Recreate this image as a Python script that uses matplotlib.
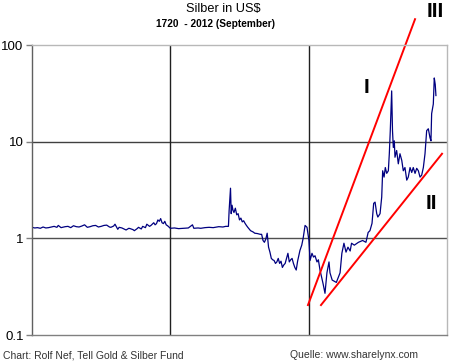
import numpy as np
import matplotlib.pyplot as plt

plt.rcParams['font.family'] = ['Liberation Sans', 'DejaVu Sans']

# silver price, US$ per ounce
years = [1720, 1722, 1724, 1726, 1728, 1730, 1732, 1734, 1736, 1738, 1739, 1741,
         1742, 1744, 1746, 1748, 1750, 1752, 1754, 1756, 1758, 1760, 1762, 1764,
         1766, 1768, 1770, 1772, 1774, 1776, 1777, 1779, 1780, 1782, 1783, 1785,
         1787, 1788, 1790, 1791, 1793, 1794, 1796, 1797, 1799, 1800, 1802, 1803,
         1805, 1806, 1808, 1809, 1810, 1811, 1812, 1813, 1814, 1815, 1816, 1817,
         1818, 1820, 1823, 1826, 1830, 1833, 1836, 1837, 1840, 1842, 1845, 1848,
         1851, 1855, 1858, 1860, 1862, 1862.5, 1863.5, 1864, 1864.6, 1865.3, 1866,
         1867, 1868, 1869, 1870, 1871, 1872, 1873, 1874, 1875, 1876, 1878, 1880,
         1881, 1883, 1885, 1886, 1887, 1888, 1889, 1890, 1891, 1892, 1893, 1894,
         1895, 1896, 1897, 1898, 1899, 1900, 1901, 1902, 1903, 1904, 1905, 1906,
         1907, 1908, 1909, 1910, 1911, 1912, 1913.7, 1915, 1916, 1917.4, 1918.8,
         1920.2, 1921, 1922.4, 1923.5, 1924.6, 1926, 1927, 1928.2, 1929.3, 1930.4,
         1931.8, 1933.2, 1934.7, 1935.4, 1937, 1938.5, 1940, 1941, 1942.7, 1944,
         1945.5, 1947, 1948.4, 1950, 1951, 1953, 1956, 1959, 1961.4, 1963, 1964.3,
         1965.8, 1967, 1968, 1969.2, 1970, 1971.6, 1972.8, 1973.5, 1974.5, 1975.4,
         1976.4, 1977.6, 1978.3, 1979, 1980, 1980.6, 1981.2, 1981.9, 1982.4, 1983.6,
         1984.8, 1986, 1987.3, 1988.4, 1989.6, 1990.9, 1992, 1993.3, 1994.5, 1995.6,
         1996.9, 1998.1, 1999.3, 2000.5, 2001.7, 2002.9, 2004.1, 2005.3, 2006.5,
         2007.7, 2008.4, 2008.9, 2010.1, 2010.8, 2011.5, 2012]
prices = [1.30, 1.28, 1.29, 1.27, 1.31, 1.28, 1.29, 1.31, 1.33, 1.30, 1.36, 1.29,
          1.30, 1.32, 1.33, 1.29, 1.35, 1.32, 1.31, 1.34, 1.38, 1.30, 1.32, 1.35,
          1.36, 1.31, 1.33, 1.36, 1.37, 1.31, 1.30, 1.34, 1.40, 1.24, 1.30, 1.28,
          1.24, 1.22, 1.27, 1.26, 1.23, 1.20, 1.26, 1.30, 1.25, 1.33, 1.29, 1.40,
          1.33, 1.36, 1.45, 1.38, 1.42, 1.55, 1.50, 1.60, 1.45, 1.42, 1.50, 1.38,
          1.35, 1.27, 1.28, 1.26, 1.27, 1.28, 1.38, 1.27, 1.28, 1.27, 1.29, 1.30,
          1.29, 1.32, 1.31, 1.33, 1.33, 1.94, 3.3, 1.8, 2.2, 1.95, 1.85, 2.05, 1.75,
          1.80, 1.55, 1.62, 1.48, 1.52, 1.43, 1.36, 1.30, 1.20, 1.16, 1.13, 1.12,
          1.10, 1.10, 0.95, 0.91, 0.98, 1.13, 0.81, 0.72, 0.62, 0.60, 0.59, 0.55,
          0.57, 0.62, 0.55, 0.58, 0.50, 0.53, 0.55, 0.62, 0.70, 0.57, 0.60, 0.62,
          0.55, 0.50, 0.47, 0.58, 0.75, 0.85, 1.0, 1.36, 1.30, 0.95, 0.59, 0.70,
          0.64, 0.66, 0.57, 0.60, 0.47, 0.40, 0.34, 0.27, 0.44, 0.57, 0.44, 0.37,
          0.36, 0.35, 0.38, 0.44, 0.70, 0.89, 0.72, 0.81, 0.74, 0.89, 0.85, 0.91,
          0.95, 0.91, 1.15, 1.20, 1.43, 2.3, 2.37, 1.8, 1.66, 1.8, 2.67, 5.0, 4.3,
          5.4, 4.7, 5.0, 7.5, 13.0, 33.5, 13.0, 8.7, 10.2, 6.9, 8.1, 5.9, 7.5, 6.4,
          5.0, 5.4, 4.0, 4.3, 5.4, 4.8, 5.4, 4.7, 5.3, 5.0, 4.3, 4.5, 5.4, 7.5, 13.0,
          13.6, 11.0, 10.2, 19.5, 24.5, 45.6, 39.0, 30.0]

# trend lines (start year, start price, end year, end price)
trend_x = [[1919.5, 1996.9], [1928.9, 2016.4]]
trend_y = [[0.204, 185.0], [0.204, 7.5]]
labels = ["I", "II", "III"]
label_x = [1962, 2008.5, 2011.5]
label_y = [36, 2.3, 222]

fig = plt.figure(figsize=(4.5, 3.64), dpi=100)
ax = fig.add_axes([32/450, 29/364, 415/450, 290/364])

ax.set_yscale('log')
ax.set_ylim(0.1, 100)
ax.set_xlim(1720, 2020)

ax.plot(years, prices, color='#000080', lw=0.9)
for tx, ty in zip(trend_x, trend_y):
    ax.plot(tx, ty, color='#ff0000', lw=1.4, clip_on=False)

for lab, lx, ly in zip(labels, label_x, label_y):
    ax.text(lx, ly, lab, fontsize=15, fontweight='bold', ha='center', va='center',
            clip_on=False)

# grid
for v, c in [(10, '#404040'), (1, '#505050')]:
    ax.axhline(v, color=c, lw=1, zorder=0)
for v in [1820, 1920]:
    ax.axvline(v, color='#202020', lw=1, zorder=0)

ax.spines['top'].set_color('#b8b8b8')
ax.spines['right'].set_color('#b8b8b8')
ax.spines['left'].set_color('#606060')
ax.spines['bottom'].set_color('#808080')
for s in ax.spines.values():
    s.set_linewidth(1)

ax.set_yticks([0.1, 1, 10, 100])
ax.set_yticklabels(['0.1', '1', '10', '100'])
ax.yaxis.set_minor_locator(plt.NullLocator())
ax.tick_params(axis='y', length=4, width=1, color='#808080', labelsize=9.5, pad=2)
ax.set_xticks([])

fig.text(223/450, 1 - 9/364, 'Silber in US$', ha='center', va='center', fontsize=9.2)
fig.text(216/450, 1 - 24/364, '1720  - 2012 (September)', ha='center', va='center',
         fontsize=7.3, fontweight='bold')
fig.text(3/450, 1 - 355/364, 'Chart: Rolf Nef, Tell Gold & Silber Fund', ha='left',
         va='center', fontsize=7.5, color='#333333')
fig.text(290/450, 1 - 355/364, 'Quelle: www.sharelynx.com', ha='left', va='center',
         fontsize=7.5, color='#333333')

fig.savefig('out.png', dpi=100)
